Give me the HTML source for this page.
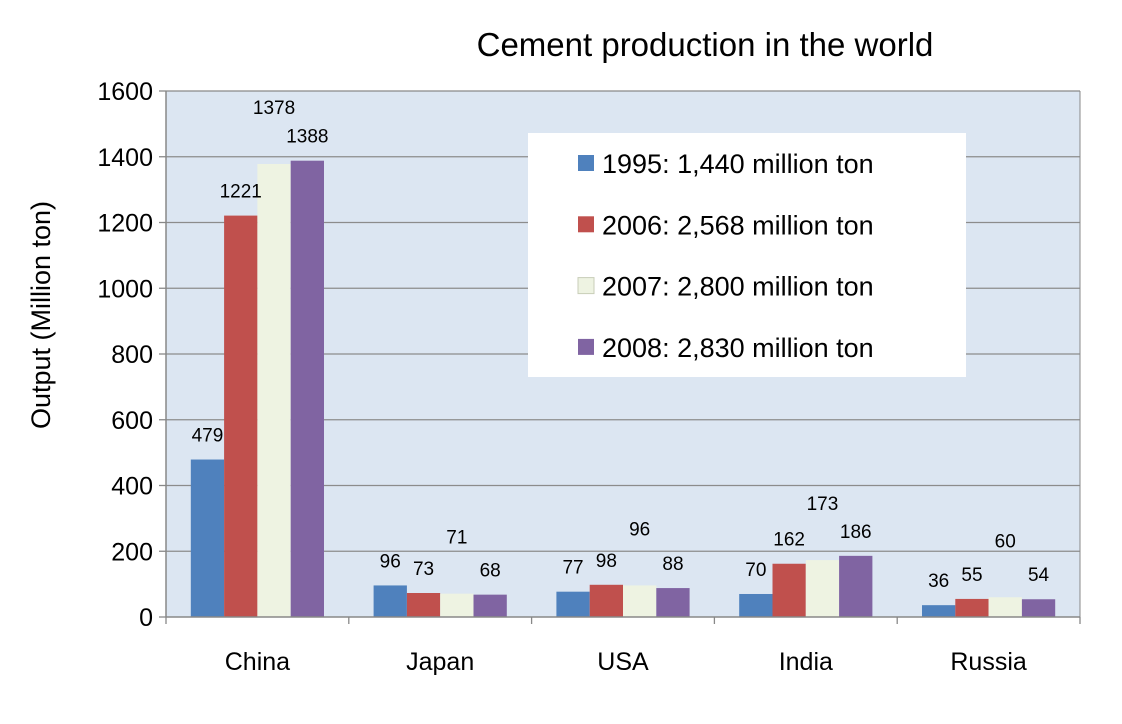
<!DOCTYPE html>
<html><head><meta charset="utf-8"><style>
html,body{margin:0;padding:0;background:#fff;}
svg{display:block;font-family:"Liberation Sans",Arial,sans-serif;}
</style></head><body>
<svg id="chart" width="1122" height="724" viewBox="0 0 1122 724">
<text x="705" y="56" font-size="33" text-anchor="middle" fill="#000">Cement production in the world</text>
<rect x="166" y="91" width="914" height="526" fill="#dce6f2"/>
<g id="grid"></g><g id="bars"></g><g id="labels"></g><g id="axes"></g>
<text transform="translate(50,315) rotate(-90)" font-size="27" text-anchor="middle">Output (Million ton)</text>
<g>
<rect x="528" y="133" width="438" height="244" fill="#fff"/>
<g id="legend"></g>
</g>
</svg>
<script>
const categories=["China","Japan","USA","India","Russia"];
const s1995=[479,96,77,70,36];
const s2006=[1221,73,98,162,55];
const s2007=[1378,71,96,173,60];
const s2008=[1388,68,88,186,54];
const legendLabels=["1995: 1,440 million ton","2006: 2,568 million ton","2007: 2,800 million ton","2008: 2,830 million ton"];
const yTicks=[0,200,400,600,800,1000,1200,1400,1600];
const series=[s1995,s2006,s2007,s2008];
const colors=["#4f81bd","#c0504d","#eef3e2","#8064a2"];
const names=["1995","2006","2007","2008"];
const ns="http://www.w3.org/2000/svg";
const X0=166,X1=1080,Y0=617,Y1=91,YMAX=1600;
const y=v=>Y0-(v/YMAX)*(Y0-Y1);
const gw=(X1-X0)/categories.length, bw=33.3;
const bx=(i,s)=>X0+gw*i+gw/2-2*bw+s*bw;
function mk(tag,attrs,parent){const e=document.createElementNS(ns,tag);for(const k in attrs)e.setAttribute(k,attrs[k]);document.getElementById(parent).appendChild(e);return e;}
yTicks.forEach(t=>{
 if(t>0){const l=mk('line',{x1:X0,x2:X1,y1:y(t),y2:y(t),stroke:'#8c8c8c','stroke-width':1.3},'grid');
 
 }
 const tk=mk('line',{x1:X0-7,x2:X0,y1:y(t),y2:y(t),stroke:'#888','stroke-width':1.3},'axes');
 
 
 const tx=mk('text',{x:X0-13,y:y(t)+9,'font-size':25,'text-anchor':'end'},'axes');tx.textContent=t;
 
 
});
mk('line',{x1:X0,x2:X0,y1:Y1,y2:Y0,stroke:'#888','stroke-width':1.5},'axes');
mk('line',{x1:X0,x2:X1,y1:Y0,y2:Y0,stroke:'#888','stroke-width':1.5},'axes');
mk('line',{x1:X1,x2:X1,y1:Y1,y2:Y0,stroke:'#888','stroke-width':1},'axes');
mk('line',{x1:X0,x2:X1,y1:Y1,y2:Y1,stroke:'#888','stroke-width':1},'axes');
for(let i=0;i<=categories.length;i++){
 const t=mk('line',{x1:X0+gw*i,x2:X0+gw*i,y1:Y0,y2:Y0+7,stroke:'#888','stroke-width':1.3},'axes');
 
 
}
categories.forEach((c,i)=>{
 const t=mk('text',{x:X0+gw*i+gw/2,y:670,'font-size':25,'text-anchor':'middle'},'axes');t.textContent=c;
 
 
 series.forEach((s,k)=>{
  const v=s[i];
  const r=mk('rect',{x:bx(i,k),y:y(v),width:bw,height:Y0-y(v),fill:colors[k]},'bars');
  
  
  const off=k===2?50:18;
  const lt=mk('text',{x:bx(i,k)+bw/2,y:y(v)-off,'font-size':19,'text-anchor':'middle'},'labels');lt.textContent=v;
  
  
 });
});
legendLabels.forEach((l,k)=>{
 const yy=163+k*61.3;
 const r=mk('rect',{x:578,y:yy-8,width:16,height:16,fill:colors[k],stroke:k===2?'#c8ceb8':'none'},'legend');
 
 
 const t=mk('text',{x:602,y:yy+10,'font-size':27},'legend');t.textContent=l;
 
 
});
</script>
</body></html>
